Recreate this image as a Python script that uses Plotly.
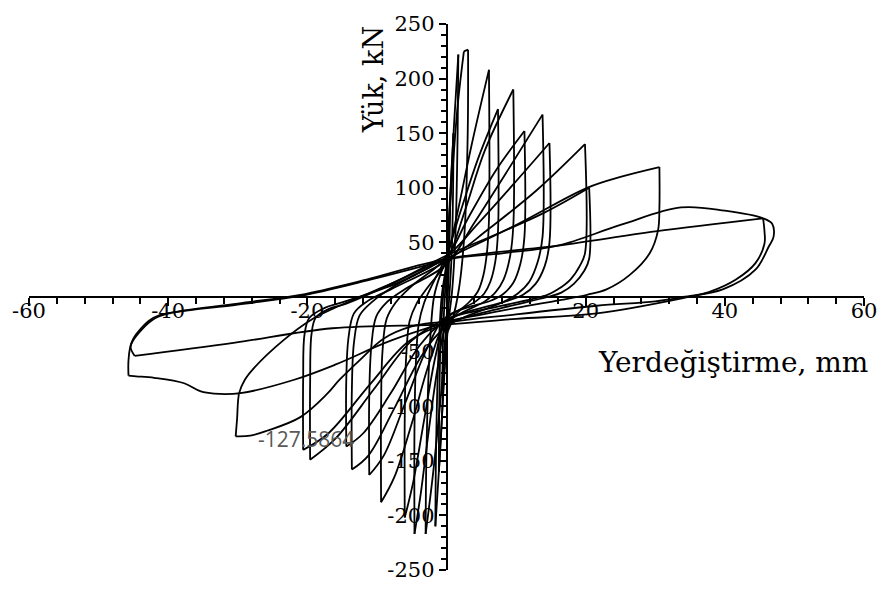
import math
import plotly.graph_objects as go

# Cyclic test record: lateral displacement (mm) and load (kN), one pair of lists per cycle
c01_d = [0.0, 0.2, 0.4, 0.5, 0.45, 0.3, 0.1, -0.2, -0.45, -0.6, -0.55, -0.4, -0.2, 0.0]
c01_f = [0, 35, 65, 85, 55, 20, -10, -40, -70, -90, -55, -20, 5, 25]

c02_d = [0.0, 0.3, 0.7, 1.0, 0.95, 0.75, 0.4, 0.1, -0.3, -0.7, -1.1, -1.05, -0.85, -0.5, 0.0]
c02_f = [25, 60, 110, 150, 100, 40, 0, -25, -65, -115, -160, -105, -40, 0, 30]

c03_d = [0.0, 0.5, 1.1, 1.7, 1.6, 1.3, 0.8, 0.3, -0.3, -0.9, -1.6, -1.5, -1.2, -0.7, 0.0]
c03_f = [30, 90, 160, 222, 150, 60, 5, -22, -70, -140, -210, -140, -60, 0, 32]

c04_d = [0.0, 0.7, 1.6, 2.5, 3.1, 3.05, 2.6, 1.8, 0.8, 0.0, -0.8, -1.9, -3.0, -2.9, -2.5, -1.8, -0.8, 0.0]
c04_f = [32, 100, 175, 225, 226.5, 150, 60, 8, -22, -35, -90, -160, -217, -150, -60, 0, 22, 34]

c05_d = [0.0, 1.5, 3.6, 6.1, 6.1, 5.8, 5.3, 4.5, 3.5, 0.0, -1.2, -2.5, -3.7, -4.6, -4.6, -4.4, -4.0, -3.2, -2.0, 0.0]
c05_f = [34, 75, 139, 208, 70, 40, 20, 5, -3, -26, -62, -120, -180, -217, -120, -60, -25, -5, 12, 38]

c06_d = [0.0, 2.0, 4.5, 7.4, 7.4, 7.0, 6.3, 5.4, 4.2, 0.0, -1.5, -3.2, -4.8, -6.0, -6.0, -5.8, -5.3, -4.3, -2.8, 0.0]
c06_f = [38, 78, 126, 172, 60, 32, 14, 3, -4, -20, -52, -112, -170, -202, -110, -55, -22, -6, 8, 32]

c07_d = [0.0, 2.6, 5.5, 9.6, 9.6, 9.1, 8.2, 7.0, 5.5, 0.0, -2.3, -5.0, -7.5, -9.4, -9.4, -9.2, -8.6, -7.3, -5.0, 0.0]
c07_f = [32, 78, 134, 190, 65, 36, 16, 4, -4, -24, -57, -116, -165, -188, -100, -50, -20, -5, 10, 36]

c08_d = [0.0, 3.0, 7.0, 11.2, 11.2, 10.6, 9.6, 8.2, 6.5, 0.0, -2.8, -6.0, -9.0, -11.1, -11.1, -10.8, -10.1, -8.6, -6.0, 0.0]
c08_f = [36, 71, 115, 152, 55, 30, 13, 3, -3, -18, -47, -98, -145, -163, -90, -45, -18, -5, 7, 30]

c09_d = [0.0, 4.0, 9.0, 13.8, 13.8, 13.1, 11.9, 10.2, 8.0, 0.0, -3.5, -7.5, -11.2, -13.6, -13.6, -13.3, -12.5, -10.6, -7.5, 0.0]
c09_f = [30, 68, 118, 167, 55, 32, 14, 3, -5, -27, -53, -102, -145, -158, -85, -42, -17, -4, 10, 37]

c10_d = [0.0, 4.5, 10.0, 14.8, 14.8, 14.1, 12.8, 11.0, 8.5, 0.0, -3.8, -8.0, -12.0, -14.4, -14.4, -14.1, -13.3, -11.4, -8.0, 0.0]
c10_f = [37, 67, 106, 141, 50, 28, 12, 2, -4, -21, -44, -88, -125, -137, -75, -38, -15, -4, 7, 33]

c11_d = [0.0, 6.0, 13.0, 19.9, 19.9, 19.2, 17.8, 16.0, 14.5, 8.0, 0.0, -5.0, -10.5, -16.0, -19.6,
         -19.6, -19.4, -18.8, -16.8, -14.4, -7.0, 0.0]
c11_f = [33, 62, 98, 140, 40, 29, 16, 7, 2, -8, -20, -40, -85, -130, -149,
         -80, -34, -19, -10.7, -6, 15, 38]

c12_d = [0.0, 7.0, 14.0, 20.5, 20.5, 19.8, 18.3, 16.5, 14.5, 8.0, 0.0, -5.5, -11.0, -17.0, -20.6,
         -20.6, -20.4, -19.7, -17.5, -15.0, -7.0, 0.0]
c12_f = [38, 57, 77, 100, 35, 24, 12, 4, 0, -10, -24, -41, -80, -125, -140,
         -75, -34, -19, -10, -5, 13, 35]

c13_d = [0.0, 10.0, 20.2, 25.0, 30.6, 30.6, 30.4, 29.2, 26.3, 23.0, 20.2, 10.0, 0.0,
         -5.0, -9.0, -12.5, -15.4, -17.2, -21.0, -25.8, -28.2, -30.3,
         -30.1, -29.8, -29.0, -27.8, -23.5, -19.2, -16.4, -8.0, 0.0]
c13_f = [35, 66, 100, 110, 119, 83, 61, 40, 20, 7, 2, -10, -22,
         -27, -38, -58, -76, -89, -110, -122.5, -127, -127.5864,
         -112, -88, -76, -66, -40, -20, -11, 12, 34]

c14_d = [0.0, 8.0, 16.0, 25.0, 33.7, 40.0, 45.5, 46.8, 47.0, 46.3, 44.4, 39.7, 34.0, 30.0, 21.6, 10.0, 0.0,
         -8.0, -16.0, -22.0, -29.6, -33.4, -35.3, -37.7, -42.0, -44.6, -45.7,
         -45.7, -45.3, -43.8, -42.0, -40.0, -30.0, -21.0, -11.5, 0.0]
c14_f = [34, 40, 47, 66, 82, 79, 72, 67, 55, 46, 25, 7, 0, -4, -8, -16, -24,
         -40, -62, -76, -88, -88.5, -86.5, -79, -74, -72.6, -72,
         -58, -43, -30, -20, -15, -6, 2, 16, 35]

c15_d = [0.0, 16.0, 30.0, 45.5, 45.7, 45.7, 44.4, 41.6, 37.7, 34.0, 21.6, 10.0, 0.0,
         -16.4, -30.6, -44.8, -45.4, -44.9, -44.2, -42.8, -41.4, -30.0, -21.0, -11.5, 0.0]
c15_f = [35, 47, 60, 72, 60, 49, 31, 16, 4.5, -1, -15, -20, -25,
         -28.6, -42, -54, -46, -37, -31, -22, -17, -7, 1, 15, 34]

# Peak load of the -30 mm excursion, shown as a data label
label_d = -30.3
label_f = -127.5864

x_ticks = [-60, -40, -20, 20, 40, 60]
y_ticks = [-250, -200, -150, -100, -50, 50, 100, 150, 200, 250]

cycles = [(c01_d, c01_f), (c02_d, c02_f), (c03_d, c03_f), (c04_d, c04_f), (c05_d, c05_f),
          (c06_d, c06_f), (c07_d, c07_f), (c08_d, c08_f), (c09_d, c09_f), (c10_d, c10_f),
          (c11_d, c11_f), (c12_d, c12_f), (c13_d, c13_f), (c14_d, c14_f), (c15_d, c15_f)]

W, H = 889, 594
M = dict(l=27, r=19, t=15, b=20)
X_RANGE = [-60, 60]
Y_RANGE = [-250, 250]

# join the cycles into one continuous record
xs, ys = [], []
for d, f in cycles:
    for x, y in zip(d, f):
        if xs and xs[-1] == x and ys[-1] == y:
            continue
        xs.append(x)
        ys.append(y)

# px per data unit, used to find sharp load reversals on screen
sx = (W - M["l"] - M["r"]) / (X_RANGE[1] - X_RANGE[0])
sy = (H - M["t"] - M["b"]) / (Y_RANGE[1] - Y_RANGE[0])


def split_at_reversals(xv, yv, limit_deg=60):
    """Break the path at sharp turns so every branch is smoothed on its own."""
    px, py = [xv[0]], [yv[0]]
    for i in range(1, len(xv) - 1):
        a = math.atan2((yv[i] - yv[i - 1]) * sy, (xv[i] - xv[i - 1]) * sx)
        b = math.atan2((yv[i + 1] - yv[i]) * sy, (xv[i + 1] - xv[i]) * sx)
        turn = abs((b - a + math.pi) % (2 * math.pi) - math.pi)
        px.append(xv[i])
        py.append(yv[i])
        if math.degrees(turn) > limit_deg:
            px += [None, xv[i]]
            py += [None, yv[i]]
    px.append(xv[-1])
    py.append(yv[-1])
    return px, py


px, py = split_at_reversals(xs, ys)

fig = go.Figure()
fig.add_trace(go.Scatter(
    x=px, y=py, mode="lines",
    line=dict(color="black", width=1.8, shape="spline", smoothing=1.0),
    connectgaps=False, hoverinfo="skip", showlegend=False,
))

tick_font = dict(family="DejaVu Serif", size=21, color="black")

fig.update_layout(
    width=W, height=H, margin=M,
    paper_bgcolor="white", plot_bgcolor="white",
    showlegend=False,
    xaxis=dict(
        range=X_RANGE, anchor="free", position=0.5,
        showgrid=False, zeroline=False,
        showline=True, linecolor="black", linewidth=1.5,
        tickmode="array", tickvals=x_ticks, ticktext=[str(v) for v in x_ticks],
        ticks="outside", ticklen=8, tickwidth=1.5, tickcolor="black",
        tickfont=tick_font, ticklabelstandoff=-13,
        minor=dict(dtick=4, tick0=0, ticks="outside", ticklen=6, tickwidth=1.5,
                   tickcolor="black", showgrid=False),
    ),
    yaxis=dict(
        range=Y_RANGE, anchor="free", position=0.5,
        showgrid=False, zeroline=False,
        showline=True, linecolor="black", linewidth=1.5,
        tickmode="array", tickvals=y_ticks, ticktext=[str(v) for v in y_ticks],
        ticks="outside", ticklen=7, tickwidth=1.5, tickcolor="black",
        tickfont=tick_font,
        minor=dict(dtick=10, tick0=0, ticks="outside", ticklen=5, tickwidth=1.5,
                   tickcolor="black", showgrid=False),
    ),
    annotations=[
        dict(text="Yük, kN", textangle=-90, xref="paper", yref="paper",
             x=0.413, y=1.0, xanchor="center", yanchor="top", showarrow=False,
             font=dict(family="DejaVu Serif", size=27, color="black")),
        dict(text="Yerdeğiştirme, mm", xref="paper", yref="paper",
             x=1.007, y=0.38, xanchor="right", yanchor="middle", showarrow=False,
             font=dict(family="DejaVu Serif", size=28, color="black")),
        dict(text=f"{label_f}", x=label_d, y=label_f, xref="x", yref="y",
             xanchor="left", yanchor="middle", xshift=20, yshift=-3, showarrow=False,
             font=dict(family="Open Sans", size=21, color="#595959")),
    ],
)

fig.write_html("out.html")
